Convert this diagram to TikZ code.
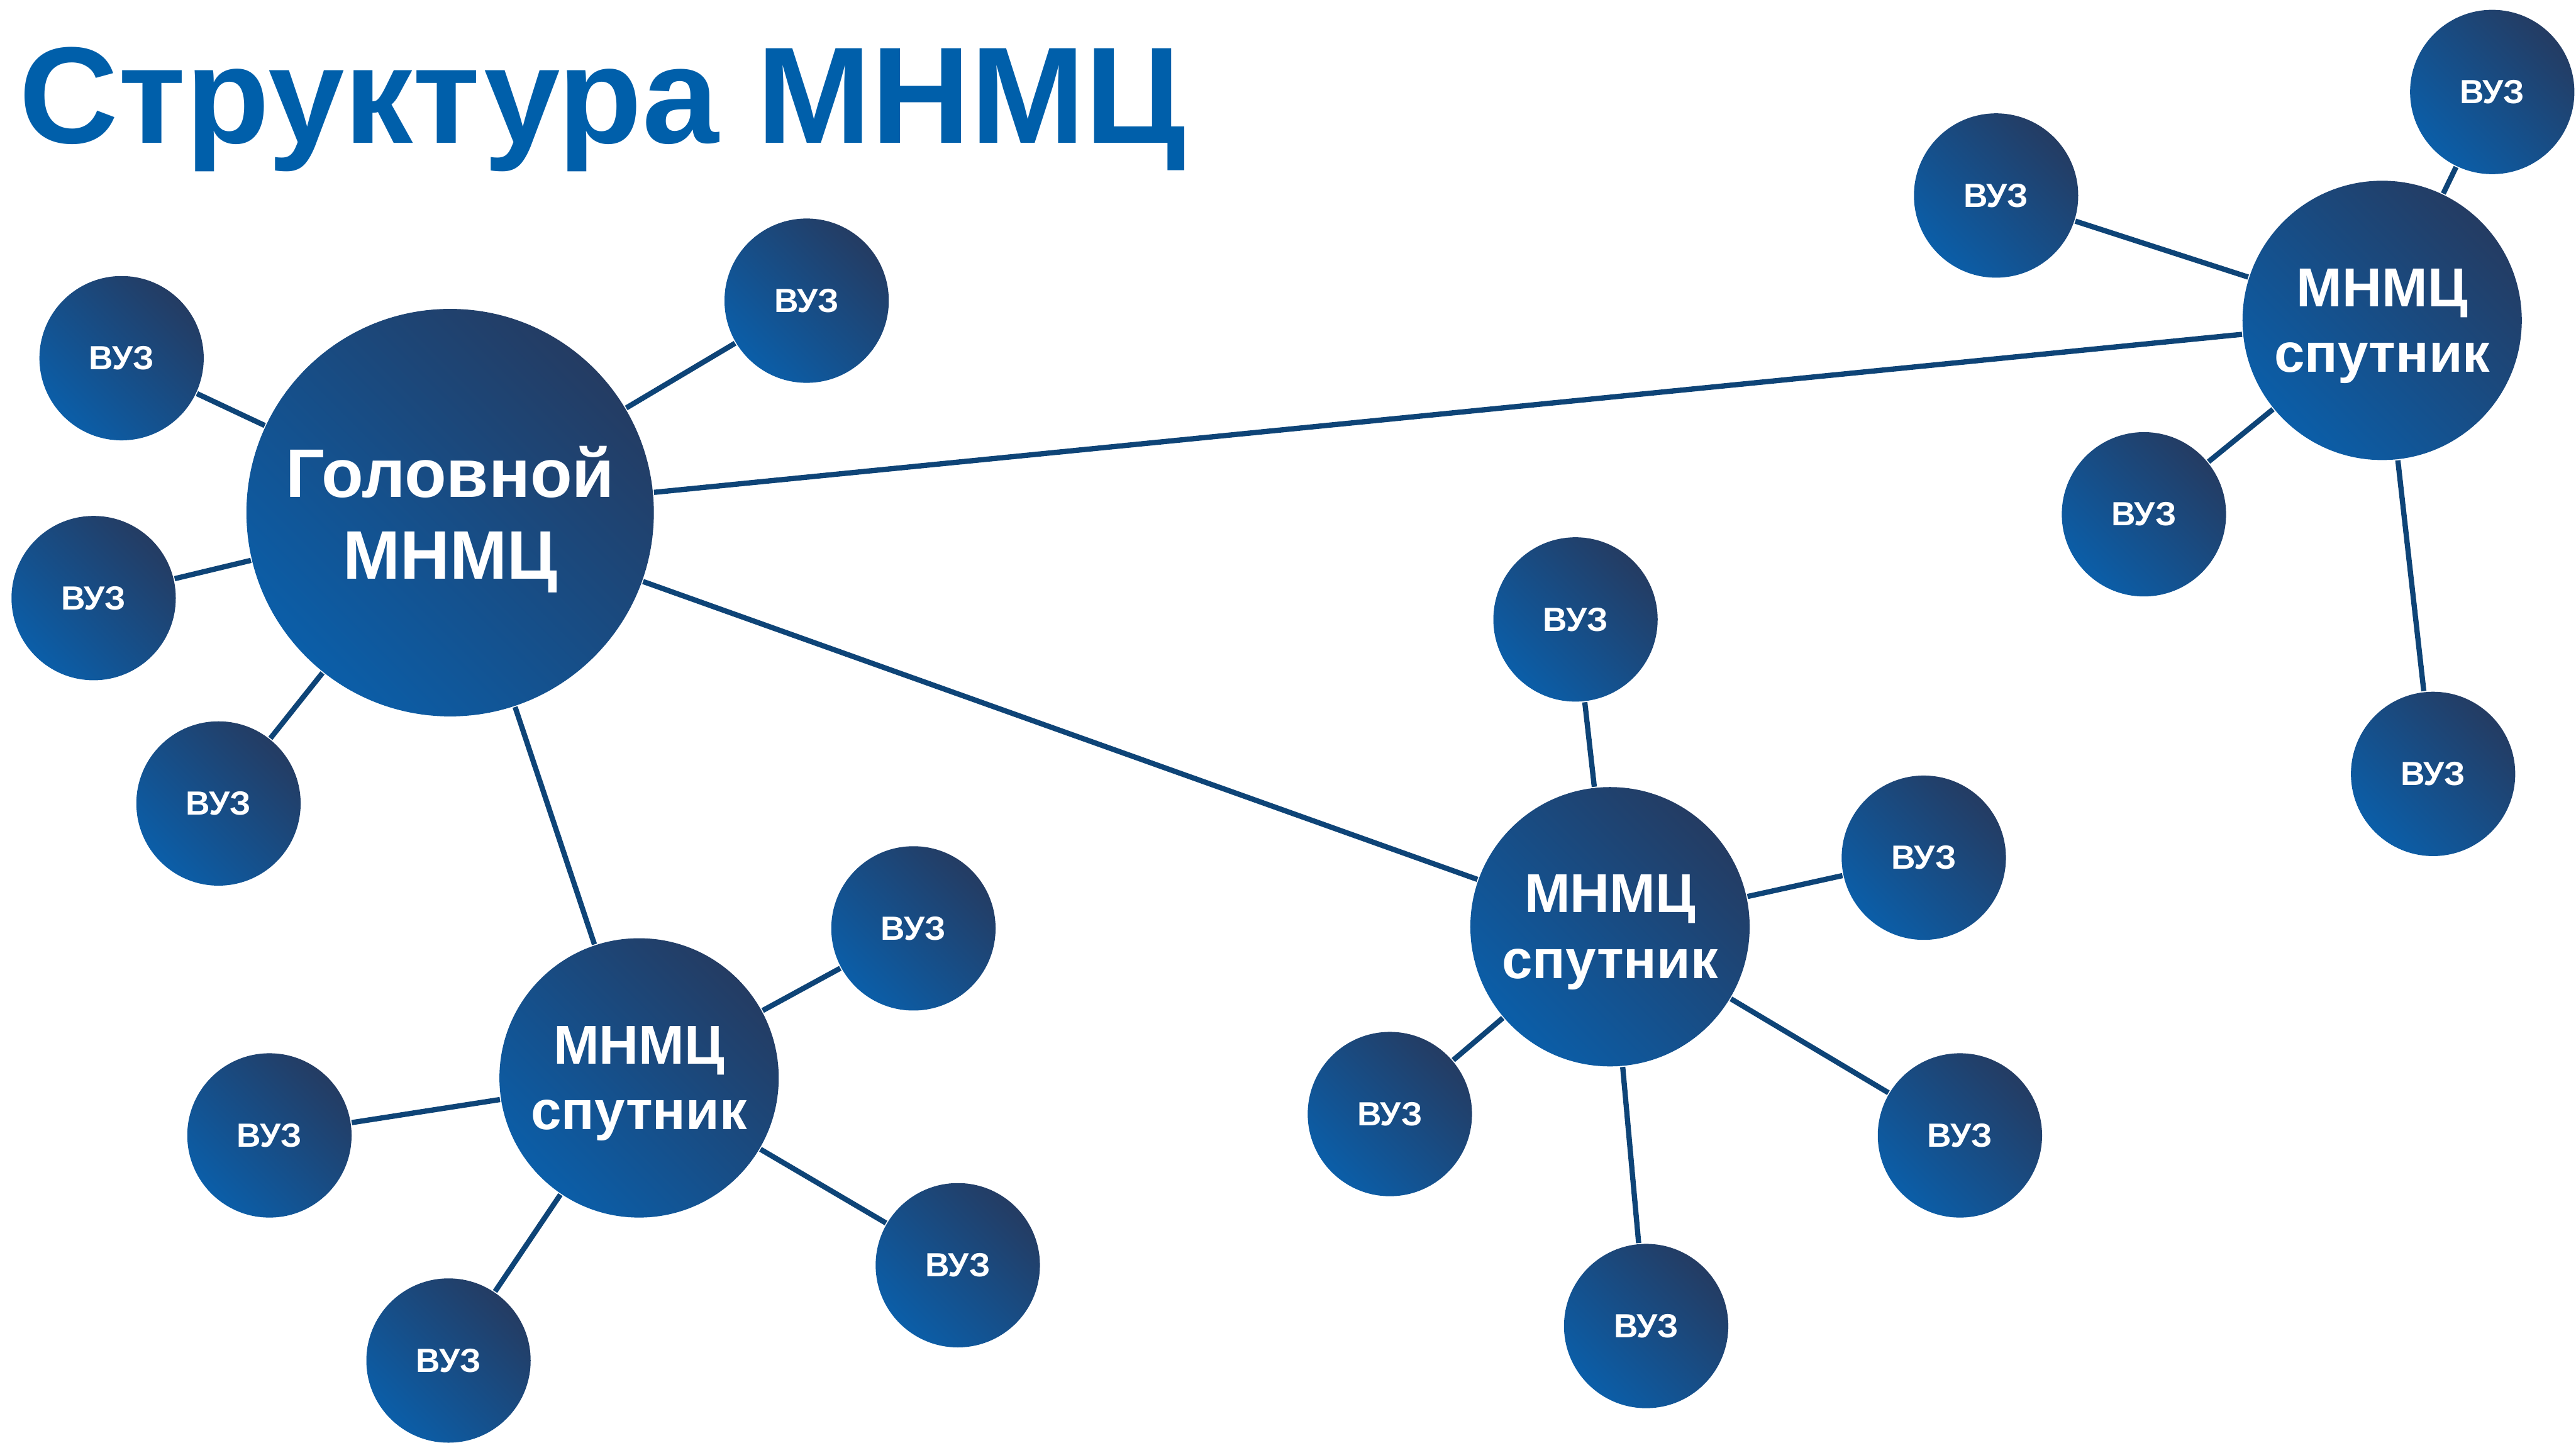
\documentclass[tikz,border=0pt]{standalone}
\usepackage{fontspec}
\setmainfont{Liberation Sans}
\definecolor{hubdark}{RGB}{36,60,99}
\definecolor{hublight}{RGB}{11,94,168}
\definecolor{linkblue}{RGB}{14,68,119}
\definecolor{titleblue}{RGB}{0,95,170}

\begin{document}
\begin{tikzpicture}[x=0.1mm,y=-0.1mm,
	ball/.style={circle,inner sep=0pt,top color=hubdark,bottom color=hublight,shading angle=-45,text=white,align=center},
	head/.style={ball,minimum size=24.8mm,text depth=-0.2pt,font=\fontsize{11.9}{14.2}\selectfont\bfseries},
	sat/.style={ball,minimum size=17mm,text depth=-0.6pt,font=\fontsize{9.5}{11.4}\selectfont\bfseries},
	vuz/.style={ball,minimum size=10mm,font=\fontsize{5.8}{7}\selectfont\bfseries},
	link/.style={draw=linkblue,line width=0.32mm}]
	\useasboundingbox (0,0) rectangle (1568,878);

	\node[anchor=base west,inner sep=0pt,text=titleblue,font=\fontsize{23.8}{28}\selectfont\bfseries] (title) at (11,87) {Структура МНМЦ};

	% centres
	\node[head] (hq) at (274,312) {Головной\\МНМЦ};
	\node[sat] (s1) at (1450,195) {МНМЦ\\спутник};
	\node[sat] (s2) at (980,564) {МНМЦ\\спутник};
	\node[sat] (s3) at (389,656) {МНМЦ\\спутник};

	% vuz around hq
	\node[vuz] (h1) at (74,218) {ВУЗ};
	\node[vuz] (h2) at (57,364) {ВУЗ};
	\node[vuz] (h3) at (133,489) {ВУЗ};
	\node[vuz] (h4) at (491,183) {ВУЗ};
	% vuz around s1
	\node[vuz] (a1) at (1215,119) {ВУЗ};
	\node[vuz] (a2) at (1517,56) {ВУЗ};
	\node[vuz] (a3) at (1305,313) {ВУЗ};
	\node[vuz] (a4) at (1481,471) {ВУЗ};
	% vuz around s2
	\node[vuz] (b1) at (959,377) {ВУЗ};
	\node[vuz] (b2) at (1171,522) {ВУЗ};
	\node[vuz] (b3) at (1193,691) {ВУЗ};
	\node[vuz] (b4) at (1002,807) {ВУЗ};
	\node[vuz] (b5) at (846,678) {ВУЗ};
	% vuz around s3
	\node[vuz] (c1) at (556,565) {ВУЗ};
	\node[vuz] (c2) at (583,770) {ВУЗ};
	\node[vuz] (c3) at (273,828) {ВУЗ};
	\node[vuz] (c4) at (164,691) {ВУЗ};

	\draw[link] (hq) -- (s1);
	\draw[link] (hq) -- (s2);
	\draw[link] (hq) -- (s3);
	\draw[link] (hq) -- (h1);
	\draw[link] (hq) -- (h2);
	\draw[link] (hq) -- (h3);
	\draw[link] (hq) -- (h4);
	\draw[link] (s1) -- (a1);
	\draw[link] (s1) -- (a2);
	\draw[link] (s1) -- (a3);
	\draw[link] (s1) -- (a4);
	\draw[link] (s2) -- (b1);
	\draw[link] (s2) -- (b2);
	\draw[link] (s2) -- (b3);
	\draw[link] (s2) -- (b4);
	\draw[link] (s2) -- (b5);
	\draw[link] (s3) -- (c1);
	\draw[link] (s3) -- (c2);
	\draw[link] (s3) -- (c3);
	\draw[link] (s3) -- (c4);
\end{tikzpicture}
\end{document}
